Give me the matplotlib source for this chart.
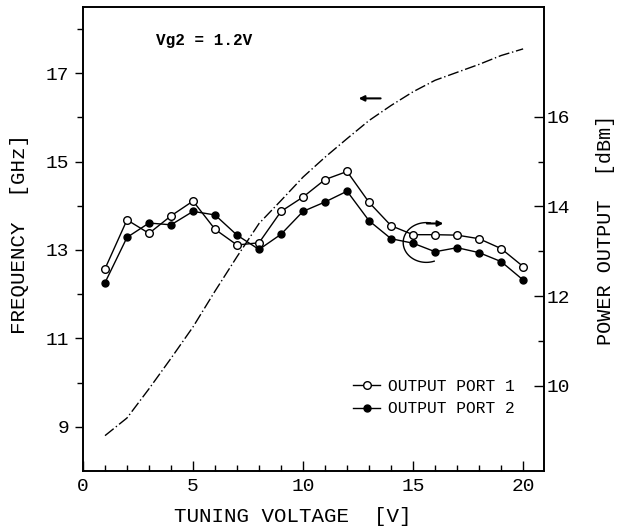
import matplotlib
matplotlib.use("Agg")
import matplotlib.pyplot as plt
import numpy as np
from matplotlib.lines import Line2D

plt.rcParams['font.family'] = ['Liberation Mono', 'DejaVu Sans Mono']

# tuning voltage [V]
voltage = list(range(1, 21))
# frequency [GHz] (left axis)
freq = [8.80, 9.20, 9.86, 10.55, 11.26, 12.07, 12.85, 13.60, 14.12, 14.65,
        15.10, 15.52, 15.93, 16.27, 16.58, 16.84, 17.02, 17.20, 17.40, 17.55]
# power output [dBm] (right axis)
port1 = [12.61, 13.70, 13.40, 13.79, 14.12, 13.49, 13.14, 13.19, 13.89, 14.21,
         14.60, 14.78, 14.09, 13.57, 13.37, 13.37, 13.36, 13.28, 13.06, 12.66]
port2 = [12.30, 13.31, 13.63, 13.59, 13.89, 13.81, 13.36, 13.04, 13.38, 13.89,
         14.10, 14.34, 13.68, 13.28, 13.18, 12.99, 13.08, 12.97, 12.77, 12.36]

fig = plt.figure(figsize=(6.18, 5.31), dpi=100)
ax = fig.add_axes([0.1343, 0.113, 0.7460, 0.874])
ax2 = ax.twinx()

# frequency curve, dash-dot
ax.plot(voltage, freq, color='black', lw=1.0, linestyle=(0, (8, 2, 1, 2)))

# power curves
ax2.plot(voltage, port1, color='black', lw=1.0, marker='o', ms=5.5,
         mfc='white', mec='black', mew=1.0)
ax2.plot(voltage, port2, color='black', lw=1.0, marker='o', ms=5.0,
         mfc='black', mec='black')

ax.set_xlim(0.15, 20.95)
ax.set_ylim(8.0, 18.5)
ax2.set_ylim(8.1, 18.45)

ax.set_xticks([0, 5, 10, 15, 20])
ax.set_xticks(range(1, 21), minor=True)
ax.set_yticks([9, 11, 13, 15, 17])
ax.set_yticks([10, 12, 14, 16, 18], minor=True)
ax2.set_yticks([10, 12, 14, 16])
ax2.set_yticks([11, 13, 15], minor=True)

ax.tick_params(axis='x', which='major', direction='in', length=7, width=1,
               labelsize=14, pad=5)
ax.tick_params(axis='x', which='minor', direction='in', length=4, width=1)
ax.tick_params(axis='y', which='major', direction='out', length=6, width=1,
               labelsize=14, pad=4)
ax.tick_params(axis='y', which='minor', direction='out', length=4, width=1)
ax2.tick_params(axis='y', which='major', direction='in', length=7, width=1,
                labelsize=14, pad=2)
ax2.tick_params(axis='y', which='minor', direction='in', length=4, width=1)

for a in (ax, ax2):
    for s in a.spines.values():
        s.set_linewidth(1.2)

ax.set_xlabel('TUNING VOLTAGE  [V]', fontsize=15)
ax.xaxis.set_label_coords(0.455, -0.077)
ax.set_ylabel('FREQUENCY  [GHz]', fontsize=15)
ax.yaxis.set_label_coords(-0.118, 0.51)
ax2.set_ylabel('POWER OUTPUT  [dBm]', fontsize=14.5)
ax2.yaxis.set_label_coords(1.113, 0.52)

ax.text(3.3, 17.75, 'Vg2 = 1.2V', fontsize=11.5, fontweight='bold', va='center')

# arrows pointing to the axis of each curve
ax.annotate('', xy=(12.4, 16.43), xytext=(13.65, 16.43),
            arrowprops=dict(arrowstyle='-|>', color='black', lw=1.5,
                            mutation_scale=8))
ax.annotate('', xy=(16.5, 13.6), xytext=(15.5, 13.6),
            arrowprops=dict(arrowstyle='-|>', color='black', lw=1.5,
                            mutation_scale=8))
t = np.radians(np.linspace(80, 290, 60))
ax.plot(15.6 + 1.05 * np.cos(t), 13.17 + 0.45 * np.sin(t), color='black', lw=1.0)

handles = [
    Line2D([], [], color='black', lw=1.0, marker='o', ms=5.5, mfc='white', mec='black'),
    Line2D([], [], color='black', lw=1.0, marker='o', ms=5.0, mfc='black', mec='black'),
]
ax.legend(handles, ['OUTPUT PORT 1', 'OUTPUT PORT 2'], loc='upper left',
          bbox_to_anchor=(0.585, 0.198), frameon=False, fontsize=11.7,
          handlelength=1.7, handletextpad=0.5, borderpad=0, borderaxespad=0,
          labelspacing=0.45)

fig.savefig('out.png', dpi=100)
